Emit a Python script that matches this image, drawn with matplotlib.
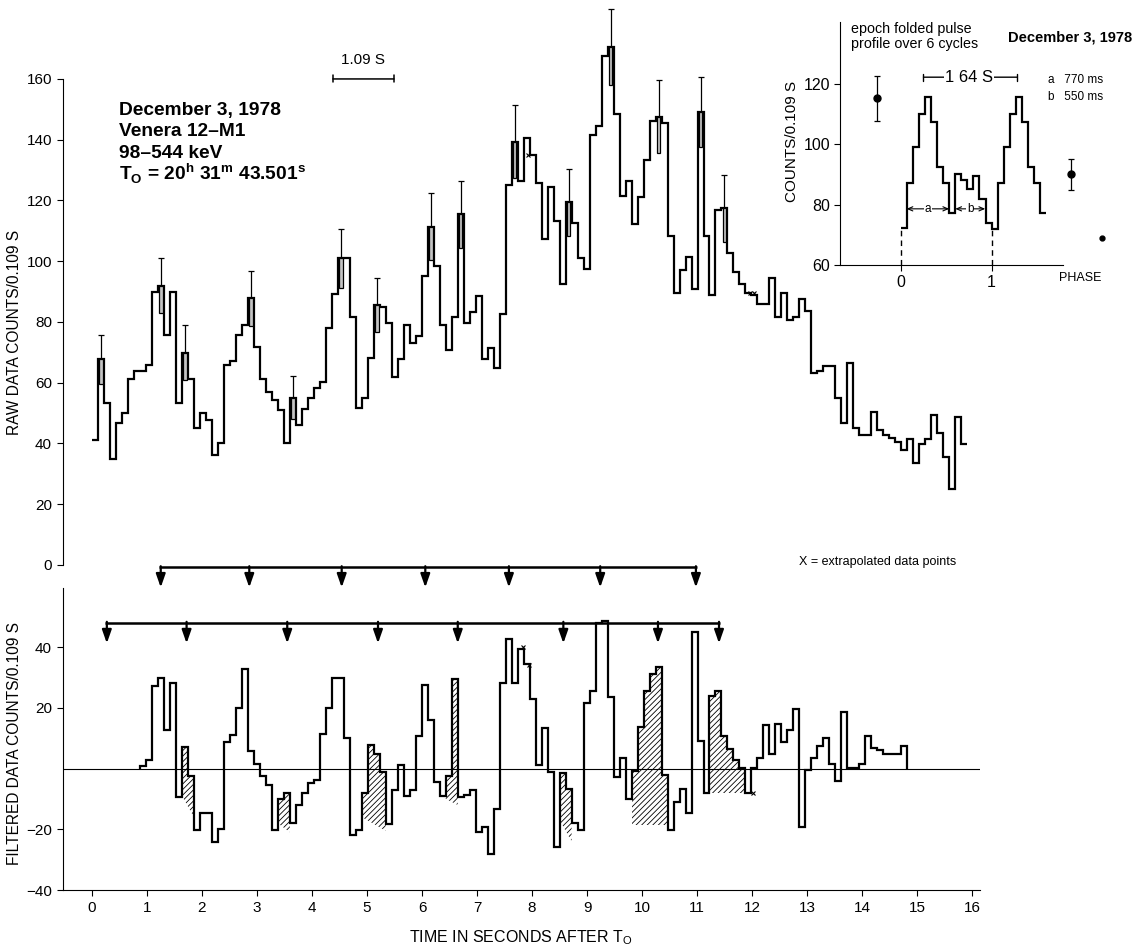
import numpy as np
import matplotlib
matplotlib.use("Agg")
import matplotlib.pyplot as plt
from matplotlib.patches import Rectangle

plt.rcParams['font.family'] = ['Liberation Sans', 'DejaVu Sans']
plt.rcParams['mathtext.fontset'] = 'custom'
plt.rcParams['mathtext.rm'] = 'Liberation Sans'
plt.rcParams['mathtext.bf'] = 'Liberation Sans:bold'
plt.rcParams['hatch.linewidth'] = 0.6

BIN = 0.109  # seconds per bin

# raw counts per 0.109 s bin, starting at T0
raw_counts = [
    41, 67.7, 53.2, 35, 46.9, 50.1, 61.1, 64, 64, 65.8,
    90, 91.9, 75.7, 90, 53.2, 69.9, 61.1, 45.2, 50, 47.7,
    36.1, 40, 65.8, 67.3, 75.7, 79, 87.8, 71.9, 61.1, 57,
    54.3, 51, 40, 55.1, 46.1, 51.3, 55.1, 58.2, 60.4, 77.9,
    89.1, 101, 101, 81.8, 51.8, 55.1, 68, 85.6, 84.8, 79.8,
    61.8, 67.7, 79, 73, 75.4, 95.1, 111.4, 98.4, 79, 70.8,
    81.5, 115.5, 79.6, 83.4, 88.7, 67.7, 71.5, 64.7, 82.5, 125.2,
    139.4, 126.4, 140.7, 135, 125.7, 107.2, 124.3, 113.4, 92.5, 119.4,
    112.7, 101, 97.6, 141.6, 144.5, 167.4, 170.6, 148.5, 121.5, 126.4,
    112.4, 121.3, 133.3, 146.3, 147.5, 145.4, 108.4, 89.4, 97.1, 101.3,
    90.8, 149.2, 108.4, 88.9, 116.9, 117.4, 102.6, 96.6, 92.5, 89.4,
    89, 86, 86, 94.4, 81.5, 89.4, 80.7, 81.5, 87.5, 83.6,
    63.1, 63.7, 65.5, 65.5, 54.9, 46.6, 66.4, 45, 42.8, 42.8,
    50.5, 44.4, 42.8, 41.7, 40.6, 37.9, 41.6, 33.5, 39.8, 41.6,
    49.4, 43.6, 35.7, 24.9, 48.6, 39.7,
]
err_bins = [1, 11, 15, 26, 33, 41, 47, 56, 61, 70, 79, 86, 94, 101, 105]
err_sigma = [8, 9, 9, 9, 7, 9.7, 9, 11, 11, 12, 11, 12.5, 12, 11.5, 11]

# filtered counts, first value belongs to bin 8
filt_first_bin = 8
filtered = [
    0.8, 2.7, 27.1, 29.9, 12.8, 28, -9.3, 7.1, -2.5, -20.3,
    -14.8, -14.8, -24.1, -19.8, 8.8, 11, 19.8, 32.9, 5.8, 1.6,
    -2.5, -5.5, -20.1, -10.2, -8, -17.9, -12.1, -8.2, -4.9, -3.8,
    11.5, 19.8, 29.9, 29.9, 9.9, -22, -20.1, -7.9, 7.9, 4.7,
    -1.1, -18.3, -7.1, 1.1, -9.1, -7.1, 10.6, 27.4, 15.9, -4.4,
    -9, -2.4, 29.6, -9.3, -8.8, -7.1, -20.9, -19.2, -28.2, -13.2,
    28, 42.5, 28, 39.3, 34.3, 23, 1.1, 13.2, -1.1, -25.8,
    -1.6, -6.9, -17.9, -20.3, 21.6, 25.5, 48, 48.5, 23.6, -2.7,
    3.3, -9.9, -0.8, 13.5, 25.6, 31, 33.5, -2.2, -20.1, -11,
    -6.6, -14.8, 45, 9, -8, 23.8, 25.5, 10.6, 6.3, 2.7,
    0.2, -8.2, 0.3, 3.6, 14.3, 4.7, 14.5, 8.8, 12.6, 19.5,
    -19.2, -0.5, 3.6, 7.5, 9.9, 1.6, -4.1, 18.7, 0.2, 0.2,
    1.6, 10.6, 6.9, 6, 4.7, 4.7, 4.7, 7.5,
]

# hatched regions of the filtered curve (bins, floor at start/end)
hatch_start = [15, 31, 45, 59, 78, 90, 103]
hatch_end = [17, 33, 49, 61, 80, 96, 109]
hatch_floor_a = [-9, -18, -16, -10, -17, -18.7, -8.2]
hatch_floor_b = [-16, -21, -20.5, -12, -24, -18.7, -8.2]

# extrapolated data points
xtrap_raw_t = [7.93, 11.97, 12.04]
xtrap_raw_v = [135, 89.5, 89.5]
xtrap_filt_t = [7.84, 7.94, 12.01]
xtrap_filt_v = [40, 34, -8.2]

# arrow rows
arrows_row1 = [1.25, 2.86, 4.54, 6.06, 7.58, 9.24, 10.98]
arrows_row2 = [0.27, 1.72, 3.55, 5.2, 6.65, 8.57, 10.29, 11.4]

# folded pulse profile (phase bins of 1/15)
profile = [72.2, 87.3, 99.2, 110, 115.5, 107.2, 92.3, 87, 77.1, 90,
           88.1, 85.2, 89.6, 81.9, 74, 71.8, 87, 99.2, 110, 115.5,
           107.2, 92.3, 87, 77.1]
point_phase = [-0.257, 1.87]
point_val = [115.2, 90]
point_err = [7.5, 5]

W, H = 1145, 946
fig = plt.figure(figsize=(W / 100, H / 100), dpi=100)

LW = 1.6
xl = (-0.527, 16.145)

# ---------- raw data panel ----------
ax_r = fig.add_axes([63 / W, 381 / H, 917 / W, 562 / H])
ax_r.set_facecolor('none')
edges = np.arange(len(raw_counts) + 1) * BIN
ax_r.stairs(raw_counts, edges, baseline=None, color='k', lw=LW)
for b, s in zip(err_bins, err_sigma):
    v = raw_counts[b]
    c = (b + 0.5) * BIN
    ax_r.add_patch(Rectangle((c - 0.3 * BIN, v - s), 0.6 * BIN, s,
                             fc='#c4c4c4', ec='k', lw=0.9, zorder=3))
    ax_r.errorbar([c], [v], yerr=[[0], [s]], fmt='none', ecolor='k',
                  elinewidth=0.9, capsize=2.5, capthick=0.9)
ax_r.plot(xtrap_raw_t, xtrap_raw_v, 'x', color='k', ms=3, mew=0.8)
ax_r.annotate('', xy=(4.38, 160), xytext=(5.49, 160),
              arrowprops=dict(arrowstyle='|-|,widthA=0.25,widthB=0.25',
                              lw=1.1, color='k', shrinkA=0, shrinkB=0))
ax_r.text(4.935, 164, '1.09 S', ha='center', va='bottom', fontsize=11)
ax_r.set_xlim(*xl)
ax_r.set_ylim(0, 185)
for sp in ['top', 'right', 'bottom']:
    ax_r.spines[sp].set_visible(False)
ax_r.spines['left'].set_bounds(0, 160)
ax_r.set_yticks(range(0, 161, 20))
ax_r.set_xticks([])
ax_r.tick_params(axis='y', length=4, width=0.8, labelsize=11, pad=4)

# ---------- filtered data panel ----------
ax_f = fig.add_axes([63 / W, 56 / H, 917 / W, 325 / H])
ax_f.set_facecolor('none')
fedges = (np.arange(len(filtered) + 1) + filt_first_bin) * BIN
ax_f.axhline(0, color='k', lw=0.8)
for s, e, f0, f1 in zip(hatch_start, hatch_end, hatch_floor_a, hatch_floor_b):
    xs, ys = [], []
    for i in range(s, e):
        v = filtered[i - filt_first_bin]
        xs += [i * BIN, (i + 1) * BIN]
        ys += [v, v]
    xs += [e * BIN, s * BIN]
    ys += [f1, f0]
    ax_f.fill(xs, ys, facecolor='none', edgecolor='k', hatch='//////', lw=0)
ax_f.stairs(filtered, fedges, baseline=0, color='k', lw=LW)
ax_f.plot(xtrap_filt_t, xtrap_filt_v, 'x', color='k', ms=3, mew=0.8)

for row, yline, ytip in [(arrows_row1, 66.3, 59.6), (arrows_row2, 48, 41.2)]:
    ax_f.plot([min(row) - 0.03, max(row) + 0.02], [yline, yline], color='k',
              lw=1.8, clip_on=False, solid_capstyle='butt')
    for t in row:
        ax_f.annotate('', xy=(t, ytip), xytext=(t, yline + 0.3),
                      arrowprops=dict(arrowstyle='-|>,head_length=0.8,head_width=0.28',
                                      lw=1.6, color='k', shrinkA=0, shrinkB=0),
                      annotation_clip=False)

ax_f.set_xlim(*xl)
ax_f.set_ylim(-40, 67)
for sp in ['top', 'right']:
    ax_f.spines[sp].set_visible(False)
ax_f.spines['left'].set_bounds(-40, 59.5)
ax_f.set_yticks([-40, -20, 20, 40])
ax_f.set_xticks(range(17))
ax_f.tick_params(length=4, width=0.8, labelsize=11, pad=4)

fig.text(15 / W, 1 - 332 / H, 'RAW DATA COUNTS/0.109 S', rotation=90,
         ha='center', va='center', fontsize=11.2)
fig.text(15 / W, 1 - 743 / H, 'FILTERED DATA COUNTS/0.109 S', rotation=90,
         ha='center', va='center', fontsize=11.2)
fig.text(521 / W, 1 - 938 / H, r'TIME IN SECONDS AFTER T$_\mathrm{O}$',
         ha='center', va='center', fontsize=11.5)
fig.text(878 / W, 1 - 562 / H, 'X = extrapolated data points',
         ha='center', va='center', fontsize=9)

# title block
block = ['December 3, 1978', 'Venera 12\u2013M1', '98\u2013544 keV',
         r'T$_\mathbf{O}$ = 20$^\mathbf{h}$ 31$^\mathbf{m}$ 43.501$^\mathbf{s}$']
for i, line in enumerate(block):
    fig.text(119 / W, 1 - (111 + 21 * i) / H, line, ha='left', va='center',
             fontsize=13.8, fontweight='bold')

# ---------- folded pulse inset ----------
ax_in = fig.add_axes([840 / W, (H - 265) / H, 275 / W, 247.6 / H])
ax_in.set_facecolor('none')
ph_edges = np.arange(len(profile) + 1) / 15.0
ax_in.stairs(profile, ph_edges, baseline=None, color='k', lw=LW)
for p in [0, 1]:
    ax_in.plot([p, p], [60, profile[0]], color='k', lw=1, ls=(0, (4, 3)))
ax_in.errorbar(point_phase, point_val, yerr=point_err, fmt='o', color='k',
               ms=5, elinewidth=0.9, capsize=2.5, capthick=0.9)
ax_in.plot([2.22], [69], 'o', color='k', ms=3.5)
for x0, x1, lab in [(0.063, 0.533, 'a'), (0.6, 0.93, 'b')]:
    ax_in.annotate('', xy=(x0, 78.6), xytext=(x1, 78.6),
                   arrowprops=dict(arrowstyle='<->,head_length=0.35,head_width=0.15',
                                   lw=0.8, color='k', shrinkA=0, shrinkB=0))
    ax_in.text((x0 + x1) / 2, 78.6, lab, ha='center', va='center', fontsize=8.5,
               bbox=dict(fc='white', ec='none', pad=0.5))
ax_in.annotate('', xy=(0.25, 122.2), xytext=(1.28, 122.2),
               arrowprops=dict(arrowstyle='|-|,widthA=0.25,widthB=0.25',
                               lw=1, color='k', shrinkA=0, shrinkB=0))
ax_in.text(0.75, 122.2, '1 64 S', ha='center', va='center', fontsize=12,
           bbox=dict(fc='white', ec='none', pad=1))
ax_in.text(1.98, 55.7, 'PHASE', ha='center', va='center', fontsize=9,
           clip_on=False)
ax_in.set_xlim(-0.67, 2.36)
ax_in.set_ylim(60, 142)
for sp in ['top', 'right']:
    ax_in.spines[sp].set_visible(False)
ax_in.spines['left'].set_bounds(60, 140.5)
ax_in.spines['bottom'].set_bounds(-0.67, 1.79)
ax_in.set_yticks([60, 80, 100, 120])
ax_in.set_xticks([0, 1])
ax_in.tick_params(length=4, width=0.8, labelsize=11.5, pad=3)
ax_in.set_ylabel('COUNTS/0.109 S', fontsize=11, labelpad=3)

fig.text(851 / W, 1 - 28.5 / H, 'epoch folded pulse', ha='left', va='center',
         fontsize=10.3)
fig.text(851 / W, 1 - 44 / H, 'profile over 6 cycles', ha='left',
         va='center', fontsize=10.3)
fig.text(1008 / W, 1 - 38 / H, 'December 3, 1978', ha='left', va='center',
         fontsize=10.5, fontweight='bold')
fig.text(1048 / W, 1 - 80 / H, 'a   770 ms', ha='left', va='center',
         fontsize=8.5)
fig.text(1048 / W, 1 - 97 / H, 'b   550 ms', ha='left', va='center',
         fontsize=8.5)

fig.savefig('out.png', dpi=100)
